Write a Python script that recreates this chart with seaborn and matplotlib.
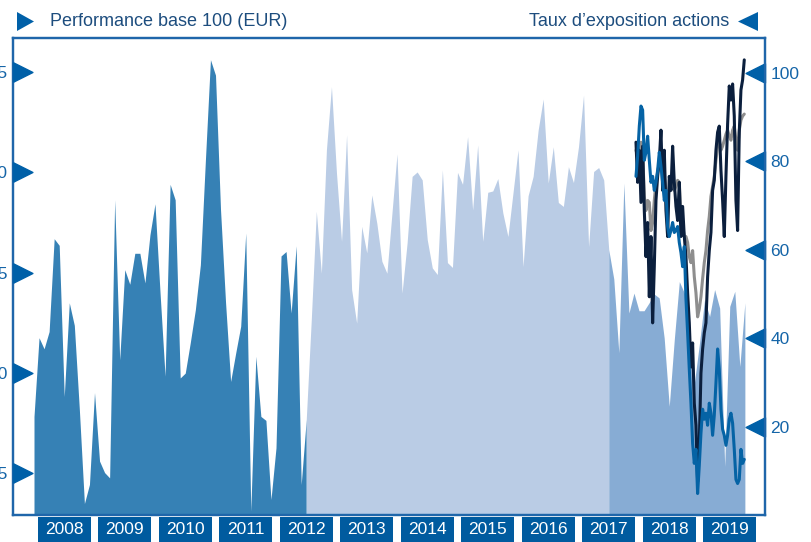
import numpy as np
import pandas as pd
import matplotlib
matplotlib.use("Agg")
import matplotlib.pyplot as plt
from matplotlib.patches import Polygon, Rectangle
from matplotlib.path import Path
import seaborn as sns

# ---------------- data ----------------
# monthly equity exposure (%), Jan 2008 .. Oct 2019
exposure = [
    22.3, 40.1, 37.6, 41.5, 62.5, 61.0, 26.8, 48.0, 42.9, 23.8,
    2.6, 6.9, 27.7, 12.2, 9.6, 8.4, 71.3, 35.1, 55.5, 52.2,
    59.2, 59.2, 52.5, 63.4, 70.4, 50.3, 31.4, 74.8, 71.3, 31.0,
    32.1, 39.0, 46.4, 56.6, 80.3, 103.0, 99.5, 69.0, 48.0, 30.2,
    36.6, 42.7, 63.8, 0.9, 35.9, 22.3, 21.4, 3.5, 15.2, 58.6,
    59.6, 45.7, 60.9, 6.9, 21.6, 44.2, 68.7, 54.7, 82.6, 96.9,
    77.3, 61.9, 86.0, 51.0, 43.4, 65.3, 59.3, 72.4, 66.0, 57.4,
    54.7, 68.3, 81.7, 50.2, 61.5, 76.6, 77.6, 75.8, 62.3, 55.9,
    54.4, 78.1, 57.1, 56.0, 77.5, 74.8, 85.6, 69.0, 83.7, 61.9,
    73.0, 73.3, 76.1, 68.3, 63.0, 72.8, 82.6, 56.2, 72.2, 76.6,
    87.1, 94.1, 75.1, 83.3, 70.7, 69.8, 78.8, 75.2, 83.3, 95.0,
    60.7, 77.7, 78.6, 75.8, 60.0, 53.4, 36.7, 75.1, 45.7, 50.2,
    46.2, 46.2, 48.0, 50.0, 49.1, 40.0, 24.6, 39.7, 52.8, 50.2,
    39.7, 30.0, 38.9, 48.7, 44.9, 51.0, 46.8, 11.0, 47.2, 50.6,
    33.6, 48.0,
]
# period boundaries (month index) for the three shades
period_breaks = [0, 54, 114, 141]
period_colors = ["#3681b5", "#bacce5", "#87acd4"]

# performance base 100 (weekly-ish points, Dec 2017 .. Sep 2019)
perf_start, perf_end = 2017.95, 2019.74
perf_navy = [
    101.5, 99.5, 101.1, 98.5, 101.3, 98.1, 95.8, 97.5, 93.8, 96.8,
    92.5, 95.3, 98.6, 99.8, 100.6, 102.1, 99.1, 101.1, 98.1, 96.8,
    99.8, 99.1, 101.3, 99.5, 98.3, 97.6, 99.5, 96.8, 98.3, 96.8,
    95.8, 94.0, 92.5, 90.3, 91.5, 88.5, 87.4, 84.6, 86.5, 90.0,
    91.2, 92.0, 92.5, 94.8, 96.1, 97.0, 99.1, 99.6, 101.1, 102.0,
    102.3, 100.1, 98.6, 96.8, 99.8, 102.4, 104.3, 103.6, 104.4, 102.8,
    98.6, 97.1, 102.0, 104.1, 104.6, 105.6,
]
perf_gray = [
    101.1, 100.8, 100.6, 101.5, 101.1, 98.8, 98.1, 98.6, 98.5, 97.1,
    97.5, 98.6, 99.5, 100.0, 100.5, 101.1, 100.1, 99.8, 99.1, 98.8,
    99.1, 99.5, 99.5, 99.1, 99.3, 99.6, 99.5, 97.8, 97.3, 96.8,
    96.8, 96.5, 95.8, 95.5, 96.1, 94.8, 94.0, 92.8, 93.2, 93.8,
    94.7, 95.5, 96.1, 97.1, 97.8, 98.8, 99.3, 99.8, 100.6, 101.3,
    101.6, 101.1, 101.3, 101.6, 101.9, 102.1, 101.8, 101.6, 102.1, 102.3,
    101.6, 101.1, 102.1, 102.6, 102.8, 102.9,
]
perf_blue = [
    99.8, 100.8, 102.3, 103.3, 103.1, 100.6, 101.0, 101.8, 100.6, 99.5,
    99.8, 99.1, 99.5, 100.1, 101.0, 100.3, 99.5, 98.6, 99.1, 97.3,
    96.8, 97.1, 97.5, 97.0, 97.1, 97.3, 96.5, 96.0, 95.3, 96.3,
    93.7, 92.0, 90.2, 88.5, 86.5, 85.5, 86.2, 84.0, 85.4, 87.0,
    88.2, 87.7, 88.0, 87.4, 88.5, 88.0, 86.9, 87.9, 89.5, 91.2,
    90.2, 88.2, 87.2, 86.9, 86.4, 86.9, 87.7, 88.0, 87.5, 86.2,
    84.7, 84.5, 84.7, 86.2, 85.5, 85.7,
]
years = list(range(2008, 2020))
left_ticks = [85, 90, 95, 100, 105]
right_ticks = [20, 40, 60, 80, 100]
title_left = "Performance base 100 (EUR)"
title_right = "Taux d\u2019exposition actions"

# ---------------- style ----------------
sns.set_theme(style="white")
plt.rcParams["font.family"] = ["Liberation Sans", "DejaVu Sans"]

BLUE = "#1f66aa"
TRI = "#0060a8"
TXT = "#1d4d7e"
LBL = "#1565a8"
BOX = "#005b9f"

W, H = 811, 542
fig = plt.figure(figsize=(W / 100, H / 100), dpi=100)
ax = fig.add_axes([13 / W, 27 / H, (765 - 13) / W, (515 - 38) / H])
ax2 = ax.twinx()

months = 2008 + np.arange(len(exposure)) / 12.0
expo = np.array(exposure)
for i in range(3):
    a, b = period_breaks[i], period_breaks[i + 1]
    ax2.fill_between(months[a:b + 1], 0, expo[a:b + 1],
                     color=period_colors[i], linewidth=0)

px = np.linspace(perf_start, perf_end, len(perf_navy))
df = pd.DataFrame({"x": px, "navy": perf_navy, "gray": perf_gray, "blue": perf_blue})
sns.lineplot(data=df, x="x", y="gray", ax=ax, color="#8e8e8e", linewidth=2.2)
sns.lineplot(data=df, x="x", y="navy", ax=ax, color="#0b1f3d", linewidth=2.2)
sns.lineplot(data=df, x="x", y="blue", ax=ax, color="#0563a5", linewidth=2.2)

ax.set_zorder(ax2.get_zorder() + 1)
ax.patch.set_visible(False)

xlim = (2008 - 21 / 60.5, 2008 + 731 / 60.5)
ax.set_xlim(*xlim)
ax.set_ylim(82.93, 106.69)
ax2.set_ylim(0, 107.9)
ax.set_xlabel("")
ax.set_ylabel("")
ax2.set_ylabel("")
ax.set_xticks([])
ax.set_yticks(left_ticks)
ax.set_yticklabels([str(t) for t in left_ticks])
ax2.set_yticks(right_ticks)
ax2.set_yticklabels([str(t) for t in right_ticks])
ax.tick_params(axis="y", length=0, pad=4, labelsize=12.5, labelcolor=LBL)
ax2.tick_params(axis="y", length=0, pad=4, labelsize=12.5, labelcolor=LBL)

for a_ in (ax, ax2):
    for s in a_.spines.values():
        s.set_color(BLUE)
        s.set_linewidth(1.6)

# triangular tick markers
right_tri = Path([(0, -1), (0, 1), (2, 0), (0, -1)])
left_tri = Path([(0, -1), (0, 1), (-2, 0), (0, -1)])
ax.plot([0] * len(left_ticks), left_ticks, ls="", marker=right_tri, markersize=28,
        color=TRI, transform=ax.get_yaxis_transform(), clip_on=False, zorder=5)
ax2.plot([1] * len(right_ticks), right_ticks, ls="", marker=left_tri, markersize=28,
         color=TRI, transform=ax2.get_yaxis_transform(), clip_on=False, zorder=5)

# year boxes
for y in years:
    r = Rectangle((y + 0.066, -0.07), 0.868, 0.066, transform=ax.get_xaxis_transform(),
                  facecolor=BOX, edgecolor="none", clip_on=False)
    ax.add_patch(r)
    ax.text(y + 0.5, -0.031, str(y), transform=ax.get_xaxis_transform(),
            ha="center", va="center", color="white", fontsize=12.5, clip_on=False)

# titles with triangles
def fpt(x, y):
    return (x / W, 1 - y / H)

fig.add_artist(Polygon([fpt(17, 12), fpt(17, 31), fpt(34, 21.5)], closed=True,
                       transform=fig.transFigure, facecolor=TRI, edgecolor="none"))
fig.text(50 / W, 1 - 22 / H, title_left, ha="left", va="center", color=TXT, fontsize=13)
fig.add_artist(Polygon([fpt(758, 12), fpt(758, 31), fpt(738, 21.5)], closed=True,
                       transform=fig.transFigure, facecolor=TRI, edgecolor="none"))
fig.text(729 / W, 1 - 22 / H, title_right, ha="right", va="center", color=TXT, fontsize=13)

fig.savefig("out.png", dpi=100)
